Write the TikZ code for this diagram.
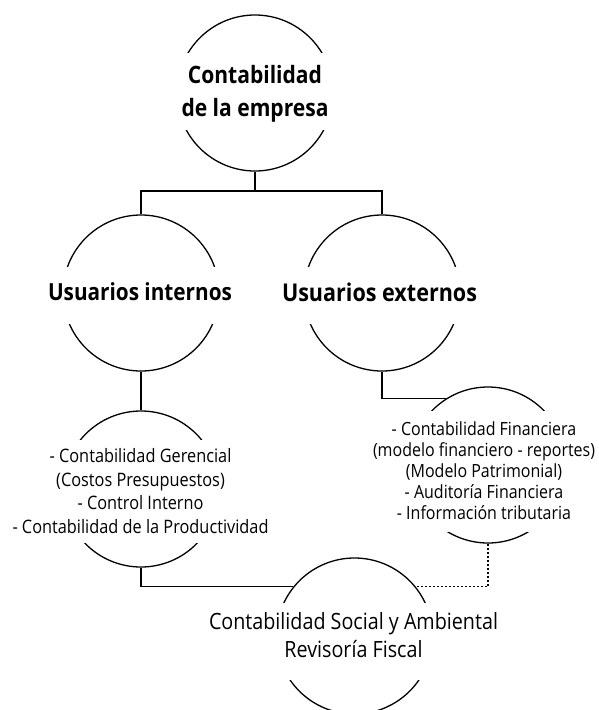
\documentclass[tikz,border=0pt]{standalone}
\usepackage{fontspec}
\newfontfamily\regfont[FakeStretch=0.88]{Open Sans}
\newlength\fitw
\newcommand\fitto[4]{%
  \settowidth\fitw{#1\fontsize{10pt}{12pt}\selectfont #3}%
  \pgfmathsetmacro\fitsz{10*#2/\fitw}%
  #1\fontsize{\fitsz pt}{#4pt}\selectfont}
\begin{document}
\begin{tikzpicture}[x=1pt,y=-1pt,
  circ/.style={draw=black,line width=1.3pt,circle,minimum size=156pt,inner sep=0pt},
  mask/.style={fill=white,draw=none,minimum width=172pt,inner sep=0pt},
  lbl/.style={align=center,inner sep=0pt,text=black},
  link/.style={draw=black,line width=1.3pt},
  dotlink/.style={link,dash pattern=on 2pt off 2pt}]
\useasboundingbox (0,0) rectangle (598,710);
% circles
\node[circ] (c1) at (255,93) {};
\node[circ] (c2) at (141,293) {};
\node[circ] (c3) at (382,293) {};
\node[circ] (c4) at (141,489) {};
\node[circ] (c5) at (488,465) {};
\node[circ] (c6) at (354.5,636) {};
% white bands behind the texts
\node[mask,minimum height=77pt] (m1) at (255,91.5) {};
\node[mask,minimum height=57pt] (m2) at (141,295.5) {};
\node[mask,minimum height=57pt] (m3) at (382,295.5) {};
\node[mask,minimum height=103pt] (m4) at (141,491.5) {};
\node[mask,minimum height=121pt] (m5) at (488,471.5) {};
\node[mask,minimum height=77pt] (m6) at (354.5,641.5) {};
% texts
\node[lbl,font={\fitto{\regfont\bfseries}{147}{de la empresa}{33}}] (t1) at (255,93.5) {Contabilidad\\de la empresa};
\node[lbl,font={\fitto{\regfont\bfseries}{184}{Usuarios internos}{20}}] (t2) at (140,292) {Usuarios internos};
\node[lbl,font={\fitto{\regfont\bfseries}{195}{Usuarios externos}{20}}] (t3) at (379.5,292) {Usuarios externos};
\node[lbl,font={\fitto{\regfont}{256}{- Contabilidad de la Productividad}{23.6}}] (t4) at (140.5,491) {- Contabilidad Gerencial\\(Costos Presupuestos)\\- Control Interno\\- Contabilidad de la Productividad};
\node[lbl,font={\fitto{\regfont}{222}{(modelo financiero - reportes)}{21}}] (t5) at (484,470.5) {- Contabilidad Financiera\\(modelo financiero - reportes)\\(Modelo Patrimonial)\\- Auditoría Financiera\\- Información tributaria};
\node[lbl,font={\fitto{\regfont}{289}{Contabilidad Social y Ambiental}{28}}] (t6) at (353.5,635.5) {Contabilidad Social y Ambiental\\Revisoría Fiscal};
% connectors
\coordinate (j1) at (255,191);
\draw[link] (c1.south) -- (j1);
\draw[link] (j1) -| (c2.north);
\draw[link] (j1) -| (c3.north);
\draw[link] (c2.south) -- (c4.north);
\draw[link] (c3.south) |- (c5.122);
\draw[link] (c4.south) |- (c6.141);
\draw[dotlink] (c5.south) |- (c6.39);
\end{tikzpicture}
\end{document}
